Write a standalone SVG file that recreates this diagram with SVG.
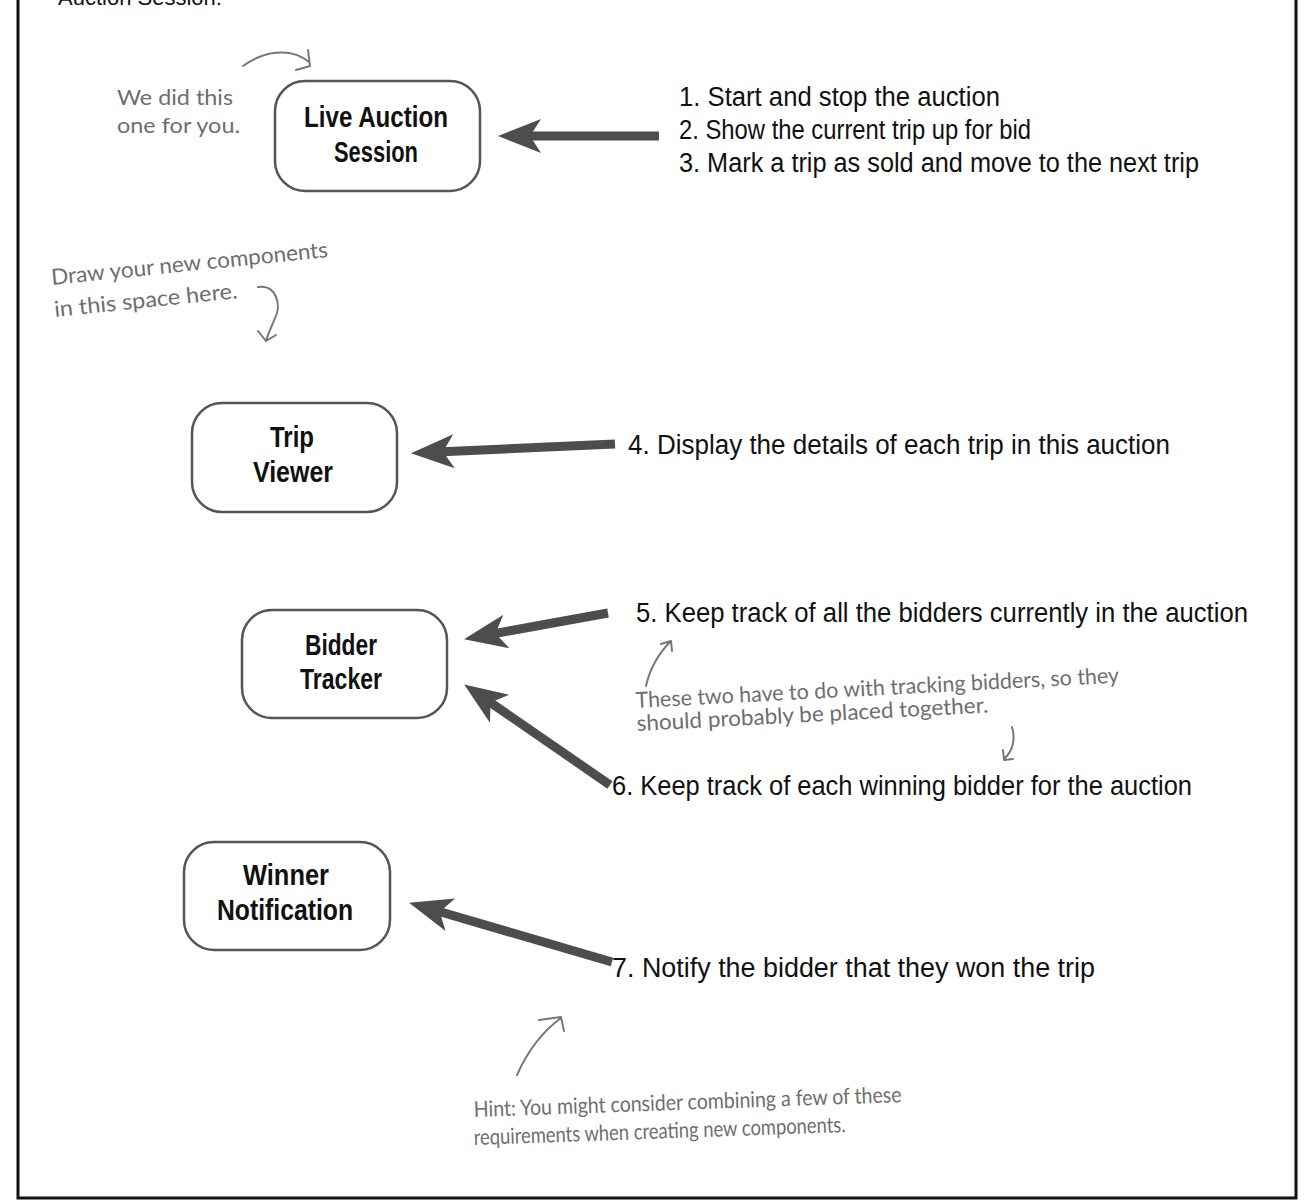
<svg xmlns="http://www.w3.org/2000/svg" width="1308" height="1204" viewBox="0 0 1308 1204">
<style>
.frame{fill:none;stroke:#111;stroke-width:3}
.box{fill:#fff;stroke:#555;stroke-width:2.5}
.lbl{font-family:"Liberation Sans Narrow","Liberation Sans",Arial,sans-serif;font-weight:bold;font-size:29px;fill:#111;text-anchor:middle}
.req{font-family:"Liberation Sans Narrow","Liberation Sans",Arial,sans-serif;font-size:27px;fill:#111}
.hand{font-family:Lato,"Open Sans",sans-serif;font-size:22px;fill:#6e6e6e}
.conn{fill:none;stroke:#4d4d4d;stroke-width:9}
.note{fill:none;stroke:#777;stroke-width:2;stroke-linecap:round;stroke-linejoin:round}
.title{font-family:"Liberation Sans",Arial,sans-serif;font-size:22px;fill:#111}
</style>
<defs>
<marker id="ah" markerUnits="userSpaceOnUse" markerWidth="60" markerHeight="60" refX="0" refY="0" orient="auto" overflow="visible">
<path d="M26,0 L-17,-17 L-6,0 L-17,17 Z" fill="#4d4d4d"/>
</marker>
</defs>
<rect width="1308" height="1204" fill="#fff"/>
<path class="frame" d="M18,0 V1198 H1296 V0"/>
<text class="title" x="58" y="5">Auction Session:</text>

<g id="node-live">
<rect class="box" x="275" y="81" width="205" height="110" rx="30"/>
<text class="lbl" x="376" y="127" textLength="144" lengthAdjust="spacingAndGlyphs">Live Auction</text>
<text class="lbl" x="376" y="162" textLength="84" lengthAdjust="spacingAndGlyphs">Session</text>
</g>
<g id="node-trip">
<rect class="box" x="192" y="403" width="205" height="109" rx="30"/>
<text class="lbl" x="292" y="447" textLength="44" lengthAdjust="spacingAndGlyphs">Trip</text>
<text class="lbl" x="293" y="482" textLength="80" lengthAdjust="spacingAndGlyphs">Viewer</text>
</g>
<g id="node-bidder">
<rect class="box" x="242" y="610" width="205" height="108" rx="30"/>
<text class="lbl" x="341" y="655" textLength="72" lengthAdjust="spacingAndGlyphs">Bidder</text>
<text class="lbl" x="341" y="689" textLength="82" lengthAdjust="spacingAndGlyphs">Tracker</text>
</g>
<g id="node-winner">
<rect class="box" x="184" y="842" width="206" height="108" rx="30"/>
<text class="lbl" x="286" y="885" textLength="86" lengthAdjust="spacingAndGlyphs">Winner</text>
<text class="lbl" x="285" y="920" textLength="136" lengthAdjust="spacingAndGlyphs">Notification</text>
</g>

<g id="connectors">
<path class="conn" d="M659,136 L524,136" marker-end="url(#ah)"/>
<path class="conn" d="M615,444 L437,452" marker-end="url(#ah)"/>
<path class="conn" d="M608,613 L489.6,634.5" marker-end="url(#ah)"/>
<path class="conn" d="M610,785 L485.6,699.2" marker-end="url(#ah)"/>
<path class="conn" d="M612,962 L434,910" marker-end="url(#ah)"/>
</g>

<g id="requirements">
<text class="req" x="679" y="106" textLength="321" lengthAdjust="spacingAndGlyphs">1. Start and stop the auction</text>
<text class="req" x="679" y="139" textLength="352" lengthAdjust="spacingAndGlyphs">2. Show the current trip up for bid</text>
<text class="req" x="679" y="172" textLength="520" lengthAdjust="spacingAndGlyphs">3. Mark a trip as sold and move to the next trip</text>
<text class="req" x="628" y="454" textLength="542" lengthAdjust="spacingAndGlyphs">4. Display the details of each trip in this auction</text>
<text class="req" x="636" y="622" textLength="612" lengthAdjust="spacingAndGlyphs">5. Keep track of all the bidders currently in the auction</text>
<text class="req" x="612" y="795" textLength="580" lengthAdjust="spacingAndGlyphs">6. Keep track of each winning bidder for the auction</text>
<text class="req" x="612" y="977" textLength="483" lengthAdjust="spacingAndGlyphs">7. Notify the bidder that they won the trip</text>
</g>

<g id="notes">
<text class="hand" x="117" y="105" textLength="116" lengthAdjust="spacingAndGlyphs">We did this</text>
<text class="hand" x="117" y="133" textLength="123" lengthAdjust="spacingAndGlyphs">one for you.</text>
<path class="note" d="M243,66 C262,52 290,46 309,62 M296,70 L310,66 L308,50"/>

<text class="hand" transform="translate(52,285) rotate(-5.8)" textLength="278" lengthAdjust="spacingAndGlyphs">Draw your new components</text>
<text class="hand" transform="translate(55,317) rotate(-5.9)" textLength="184" lengthAdjust="spacingAndGlyphs">in this space here.</text>
<path class="note" d="M258,287 C276,284 282,305 275,318 C271,328 268,334 266,341 M258,331 L266,341 L276,335"/>

<path class="note" d="M646,686 C650,668 660,652 671,641 M661,644 L671,641 L672,651"/>
<text class="hand" transform="translate(636,708) rotate(-3)" textLength="484" lengthAdjust="spacingAndGlyphs">These two have to do with tracking bidders, so they</text>
<text class="hand" transform="translate(637,731) rotate(-3)" textLength="352" lengthAdjust="spacingAndGlyphs">should probably be placed together.</text>
<path class="note" d="M1012,727 C1016,740 1012,752 1004,759 M1003,750 L1004,760 L1013,759"/>

<path class="note" d="M517,1075 C528,1050 542,1032 561,1018 M539,1020 L561,1017 L564,1031"/>
<text class="hand" transform="translate(474,1117) rotate(-2)" textLength="428" lengthAdjust="spacingAndGlyphs">Hint: You might consider combining a few of these</text>
<text class="hand" transform="translate(474,1145) rotate(-2)" textLength="372" lengthAdjust="spacingAndGlyphs">requirements when creating new components.</text>
</g>
</svg>
